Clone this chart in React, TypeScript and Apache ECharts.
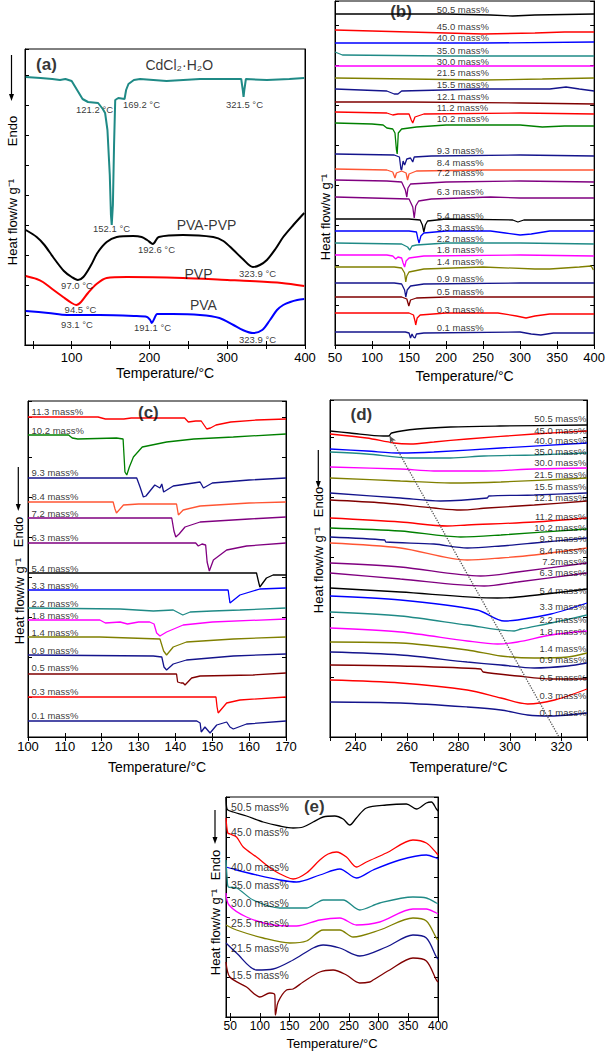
import React, { useEffect, useRef } from "react";
import * as echarts from "echarts";

const FONT = "'Liberation Sans', Arial, Helvetica, sans-serif";
const TEAL = "#1f8a86", RED = "#ff0000", BLUE = "#0000ff", MAGENTA = "#ff00ff", OLIVE = "#808000";
const NAVY = "#14148c", DARKRED = "#800000", GREEN = "#008000", SALMON = "#ff5533", PURPLE = "#800080", BLACK = "#000000";

type P = [number, number][];

// ---------- panel (a) ----------
const aCdCl2: P = [[41,26.8],[60,26.7],[75,26.6],[85,26.5],[92,26.6],[100,26.4],[107,25.5],[114,24.6],[121,24.3],[134,24.2],[140,23.6],[143,23.2],[146,21.5],[149,17],[150.5,13],[151.5,12.0],[153,14],[154.5,20],[156,24.5],[160,24.7],[168,24.6],[170,25.5],[173,26.1],[180,26.5],[188,26.6],[222,26.4],[265,26.6],[318,26.6],[320,25.5],[321,24.8],[322,25.5],[324,26.6],[351,26.5],[380,26.6],[399,26.7]];
const aPvaPvp: P = [[41,11.5],[55,10.8],[65,10.0],[76,8.8],[90,7.4],[100,6.8],[108,6.5],[115,6.8],[125,8.0],[133,9.2],[145,10.3],[158,10.8],[179,10.9],[190,10.8],[197,10.5],[202,10.2],[204.5,10.1],[207,10.3],[212,10.8],[243,11.0],[282,10.8],[295,10.4],[308,9.5],[320,8.6],[333,7.8],[342,8.0],[351,8.5],[362,9.6],[372,10.8],[385,12.0],[399,13.2]];
const aPvp: P = [[41,6.9],[55,6.6],[63,6.3],[75,5.6],[89,4.8],[100,4.2],[106,4.0],[112,4.3],[121,5.2],[132,6.1],[145,6.7],[171,6.8],[243,6.7],[300,6.5],[329,6.4],[370,6.2],[399,5.9]];
const aPva: P = [[41,3.4],[70,3.2],[94,3.0],[136,3.0],[180,2.9],[197,2.8],[201,2.5],[203,2.2],[206,2.6],[210,3.1],[230,3.1],[265,3.0],[290,2.7],[308,2.0],[320,1.5],[333,1.2],[345,1.5],[355,2.5],[364,3.5],[372,4.0],[381,4.3],[390,4.5],[399,4.6]];
const aCurveNames = ["CdCl₂·H₂O", "PVA-PVP", "PVP", "PVA"];
const aCurveNameT = [239, 274, 263.7, 270];
const aCurveNameY = [28.0, 12.0, 7.1, 4.0];
const aNoteText = ["121.2 °C","169.2 °C","321.5 °C","152.1 °C","192.6 °C","323.9 °C","97.0 °C","94.5 °C","93.1 °C","191.1 °C","323.9 °C"];
const aNoteT = [130, 190.4, 322.8, 151.9, 209.7, 339.6, 107.5, 112, 107.5, 204.6, 339.6];
const aNoteY = [23.5, 24.0, 24.0, 11.6, 9.5, 7.1, 5.9, 3.5, 2.0, 1.7, 0.5];

// ---------- panel (b) ----------
const b505: P = [[50,33.1],[120,33.1],[200,33.1],[260,33.0],[290,32.9],[320,33.0],[400,33.1]];
const b450: P = [[50,31.5],[100,31.4],[150,31.3],[250,31.1],[320,31.2],[360,31.3],[400,31.3]];
const b400: P = [[50,30.2],[150,30.2],[250,30.2],[400,30.3]];
const b350: P = [[50,29.3],[60,29.0],[200,28.9],[300,28.9],[400,28.9]];
const b300: P = [[50,27.9],[200,27.9],[300,27.9],[400,27.9]];
const b215: P = [[50,26.7],[150,26.6],[250,26.5],[330,26.6],[400,26.7]];
const b155: P = [[50,25.6],[120,25.4],[130,25.1],[135,25.1],[140,25.4],[250,25.6],[340,25.6],[362,25.8],[380,25.6],[400,25.4]];
const b121: P = [[50,24.3],[150,24.3],[300,24.2],[400,24.1]];
const b112: P = [[50,23.3],[120,23.2],[128,23.0],[135,23.1],[150,23.1],[153,22.5],[155,22.2],[158,22.8],[170,23.1],[300,23.2],[400,23.1]];
const b102: P = [[50,22.2],[100,22.1],[115,22.0],[120,21.7],[128,21.6],[131,21.2],[133,19.5],[134,19.1],[135.5,21.2],[140,21.6],[160,21.8],[200,22.0],[300,22.0],[330,21.8],[360,21.9],[400,21.9]];
const b93: P = [[50,19.1],[130,19.0],[137,18.8],[139,17.6],[140,17.5],[142,18.4],[144,18.0],[147,18.6],[152,18.7],[155,18.3],[157,18.8],[180,18.9],[300,19.0],[400,18.9]];
const b84: P = [[50,17.6],[120,17.5],[128,17.3],[131,16.7],[133,17.2],[140,17.4],[146,17.2],[148,16.5],[150,17.1],[160,17.4],[250,17.5],[400,17.5]];
const b72: P = [[50,16.5],[120,16.4],[140,16.3],[145,15.5],[147,14.8],[148.5,15.7],[152,16.1],[200,16.3],[300,16.4],[400,16.3]];
const b63: P = [[50,14.8],[100,14.7],[150,14.6],[155,13.8],[157,12.7],[159,13.9],[163,14.4],[180,14.6],[260,14.8],[300,14.7],[400,14.7]];
const b54: P = [[50,12.6],[150,12.6],[165,12.5],[168,12.0],[170,11.3],[172,12.0],[175,12.4],[200,12.6],[290,12.5],[297,12.3],[305,12.5],[400,12.5]];
const b33: P = [[50,11.4],[150,11.4],[160,11.3],[162,10.6],[163.5,10.2],[166,10.9],[170,11.2],[200,11.4],[260,11.4],[280,11.2],[300,11.0],[315,11.1],[340,11.4],[400,11.4]];
const b22: P = [[50,10.2],[140,10.1],[148,9.8],[151,9.5],[154,9.9],[160,10.0],[200,10.2],[300,10.2],[400,10.1]];
const b18: P = [[50,9.0],[120,9.0],[128,8.9],[132,8.6],[135,8.8],[140,8.7],[142,8.2],[144,7.8],[146,8.4],[150,8.7],[170,8.9],[300,9.0],[400,8.9]];
const b14: P = [[50,7.8],[130,7.8],[140,7.7],[144,7.2],[145.6,6.3],[147,6.9],[150,7.3],[170,7.6],[250,7.8],[320,7.6],[340,7.6],[380,7.8],[396,7.9],[399,7.5]];
const b09: P = [[50,6.2],[130,6.2],[140,6.1],[144,5.5],[145.6,4.8],[147.5,5.5],[152,5.9],[170,6.1],[300,6.2],[400,6.2]];
const b05: P = [[50,4.8],[140,4.8],[147,4.6],[149.7,3.9],[152,4.5],[160,4.7],[200,4.8],[400,4.8]];
const b03: P = [[50,3.2],[150,3.2],[156,3.0],[158,2.4],[159,2.0],[161,2.7],[165,3.0],[200,3.2],[270,3.2],[295,2.9],[308,2.7],[320,2.9],[340,3.1],[400,3.1]];
const b01: P = [[50,1.3],[145,1.3],[150,1.2],[152,0.7],[154,1.1],[156,0.8],[158,0.7],[160,1.1],[170,1.2],[300,1.3],[315,1.1],[328,1.0],[345,1.2],[400,1.2]];
const bNames = ["50.5 mass%","45.0 mass%","40.0 mass%","35.0 mass%","30.0 mass%","21.5 mass%","15.5 mass%","12.1 mass%","11.2 mass%","10.2 mass%","9.3 mass%","8.4 mass%","7.2 mass%","6.3 mass%","5.4 mass%","3.3 mass%","2.2 mass%","1.8 mass%","1.4 mass%","0.9 mass%","0.5 mass%","0.3 mass%","0.1 mass%"];
const bLabelY = [33.5,31.8,30.7,29.4,28.3,27.2,26.0,24.8,23.7,22.6,19.4,18.2,17.2,15.3,12.9,11.7,10.6,9.5,8.3,6.6,5.3,3.5,1.7];
const bLabelT = 188;

// ---------- panel (c) ----------
const c113: P = [[100,32.0],[119,32.0],[121,31.8],[126,31.8],[128,31.9],[142.5,31.9],[143.5,31.5],[145.5,31.6],[147,31.6],[148.5,30.8],[149.5,30.9],[151,31.2],[155,31.5],[162,31.7],[170,31.8]];
const c102: P = [[100,30.2],[111,30.2],[112,29.9],[113.5,29.8],[124,29.9],[125.8,29.8],[126.3,26.5],[126.8,26.2],[127.5,27.0],[128.6,28.0],[131,29.0],[137.6,29.5],[145,29.8],[155.7,30.0],[170,30.3]];
const c93: P = [[100,25.9],[129.5,25.9],[130.4,25.0],[131.3,24.0],[132,24.1],[134.4,25.2],[135.8,24.9],[136.3,25.3],[136.8,24.5],[139.4,25.1],[146.7,25.5],[147.6,24.9],[150,25.4],[160,25.7],[170,25.9]];
const c84: P = [[100,23.5],[123.1,23.5],[123.6,22.8],[124,22.4],[125.9,23.2],[130,23.3],[140.3,23.3],[140.8,22.2],[142.1,22.7],[146.7,23.1],[160,23.4],[170,23.5]];
const c72: P = [[100,21.9],[139,21.9],[139.6,20.6],[140.1,20.0],[141,20.3],[142.6,21.0],[146.7,21.5],[160,21.8],[170,22.0]];
const c63: P = [[100,19.4],[145.5,19.4],[146.2,19.1],[147.2,19.3],[148.2,19.2],[148.6,17.5],[149.2,16.6],[150.3,17.7],[153.9,18.7],[159.3,19.1],[170,19.4]];
const c54: P = [[100,16.4],[162,16.4],[162.5,15.6],[162.9,15.0],[164.7,15.9],[166.5,16.2],[170,16.2]];
const c33: P = [[100,14.7],[154.3,14.7],[154.6,13.9],[154.8,13.4],[157.5,14.2],[162.9,14.8],[170,14.9]];
const c22: P = [[100,12.9],[125,12.8],[134,12.6],[139.4,12.7],[142,12.2],[144,12.5],[150,12.6],[157.5,12.7],[170,12.9]];
const c18: P = [[100,11.7],[119.5,11.7],[121,11.4],[125,11.5],[127,11.3],[130,11.5],[133,11.5],[134.2,11.3],[134.9,10.4],[135.8,10.1],[137.6,10.5],[142.1,11.2],[150,11.5],[170,11.8]];
const c14: P = [[100,10.0],[119.5,10.0],[135.8,9.8],[136.8,8.6],[137.6,8.2],[139.4,9.0],[143,9.5],[155.7,9.8],[170,10.0]];
const c09: P = [[100,8.2],[134,8.1],[136.3,8.0],[136.9,7.0],[137.6,6.7],[139.4,7.3],[143,7.7],[155.7,8.1],[170,8.3]];
const c05: P = [[100,6.3],[140.3,6.3],[140.6,5.5],[141.5,5.4],[142.1,5.4],[142.6,5.2],[144.4,5.9],[146.7,6.1],[161.1,6.2],[170,6.4]];
const c03: P = [[100,4.0],[151,4.0],[151.3,3.0],[151.6,2.4],[153.9,3.4],[157.5,3.7],[170,4.0]];
const c01: P = [[100,1.6],[145.8,1.6],[146.7,1.4],[147,0.5],[148,1.0],[149.4,0.4],[151.2,1.2],[153.9,1.5],[154.8,1.0],[155.7,0.8],[159.3,1.3],[170,1.6]];
const cNames = ["11.3 mass%","10.2 mass%","9.3 mass%","8.4 mass%","7.2 mass%","6.3 mass%","5.4 mass%","3.3 mass%","2.2 mass%","1.8 mass%","1.4 mass%","0.9 mass%","0.5 mass%","0.3 mass%","0.1 mass%"];
const cLabelY = [32.5,30.6,26.4,24.0,22.3,19.9,16.8,15.1,13.3,12.1,10.4,8.6,6.9,4.5,2.1];
const cLabelT = 101.1;

// ---------- panel (d) ----------
const d505: P = [[230,30.6],[237.8,30.4],[250.8,30.1],[252.8,30.1],[254,30.4],[263.9,30.8],[276.9,31.0],[296,31.1],[330,31.2]];
const d450: P = [[230,30.3],[244.3,29.9],[254.8,29.4],[261.3,29.3],[270.4,29.5],[283.4,29.8],[309.5,30.3],[330,30.6]];
const d400: P = [[230,28.8],[244.3,28.6],[257.4,28.4],[270.4,28.5],[296.5,28.9],[330,29.4]];
const d350: P = [[230,28.5],[244.3,28.3],[261.3,27.9],[276.9,27.9],[289.9,28.1],[309.5,28.2],[330,28.4]];
const d300: P = [[230,27.0],[257.4,26.8],[270.4,26.6],[290,26.6],[309.5,26.8],[330,26.9]];
const d215: P = [[230,25.9],[257.4,25.6],[276.9,25.4],[296.5,25.5],[330,25.9]];
const d155: P = [[230,24.4],[257.4,23.9],[273,23.6],[291.2,23.9],[291.8,24.1],[309.5,24.2],[330,24.4]];
const d121: P = [[230,23.7],[250.8,23.4],[270.4,22.9],[280.8,22.7],[291.2,22.9],[309.5,23.2],[330,23.6]];
const d112: P = [[230,21.9],[257.4,21.5],[275.6,21.1],[283.4,21.2],[309.5,21.5],[330,21.9]];
const d102: P = [[230,20.9],[257.4,20.6],[280.8,20.0],[296.5,20.2],[330,20.8]];
const d93: P = [[230,20.0],[251.3,19.7],[251.7,19.5],[270.4,19.3],[283.4,18.9],[296.5,19.1],[309.5,19.4],[330,19.9]];
const d84: P = [[230,19.4],[257.4,18.9],[283.4,17.7],[296.5,17.9],[309.5,18.2],[330,18.9]];
const d72: P = [[230,17.4],[257.4,17.0],[288.6,16.1],[303,16.5],[330,17.4]];
const d63: P = [[230,16.4],[257.4,15.8],[290,15.1],[303,15.5],[330,16.4]];
const d54: P = [[230,14.9],[257.4,14.5],[295.2,13.9],[303,14.0],[330,14.8]];
const d33: P = [[230,14.1],[257.4,13.7],[287.3,12.7],[297.8,11.6],[303,11.7],[316,12.3],[330,13.4]];
const d22: P = [[230,12.5],[257.4,12.1],[283.4,11.2],[301.7,10.6],[304.3,10.8],[316,11.4],[330,12.2]];
const d18: P = [[230,10.9],[257.4,10.5],[283.4,9.6],[295.2,9.3],[303,9.5],[316,10.2],[330,10.6]];
const d14: P = [[230,9.5],[257.4,9.4],[283.4,8.7],[296.5,8.1],[309.5,7.9],[322.5,8.0],[330,8.4]];
const d09: P = [[230,8.5],[257.4,8.2],[283.4,7.5],[296.5,7.2],[309.5,6.9],[322.5,7.1],[330,7.4]];
const d05: P = [[230,7.2],[257.4,7.1],[288.6,6.8],[289.6,6.5],[303,6.1],[316,5.8],[330,5.8]];
const d03: P = [[230,5.7],[257.4,5.4],[283.4,4.7],[296.5,3.9],[306.9,3.3],[317.4,3.7],[330,4.8]];
const d01: P = [[230,3.5],[257.4,3.4],[283.4,3.0],[296.5,2.7],[306.9,2.2],[316,2.1],[330,2.4]];
const dNames = ["50.5 mass%","45.0 mass%","40.0 mass%","35.0 mass%","30.0 mass%","21.5 mass%","15.5 mass%","12.1 mass%","11.2 mass%","10.2 mass%","9.3 mass%","8.4 mass%","7.2mass%","6.3 mass%","5.4 mass%","3.3 mass%","2.2 mass%","1.8 mass%","1.4 mass%","0.9 mass%","0.5 mass%","0.3 mass%","0.1 mass%"];
const dLabelY = [31.8,30.6,29.6,28.5,27.4,26.2,25.0,23.9,22.0,20.9,19.8,18.6,17.5,16.4,14.6,13.0,11.7,10.5,8.8,7.7,5.9,4.1,2.4];
const dLabelT = 330;
const dGuideStart: [number, number] = [253.2, 30.1];
const dGuideEnd: [number, number] = [319.1, 0];

// ---------- panel (e) ----------
const e505: P = [[43,22.0],[44,21.0],[46,20.7],[55,20.5],[77.6,20.1],[105.6,19.5],[133.6,19.1],[156,18.9],[172.9,19.0],[189.7,19.5],[206.6,20.0],[226.2,20.1],[240.2,19.8],[251.4,19.2],[262.6,19.9],[279.5,20.9],[313,21.2],[346.8,21.3],[363.6,20.8],[380.4,21.4],[388.8,21.5],[397.3,20.8],[400,20.6]];
const e450: P = [[43,19.9],[46,18.4],[50,18.3],[60.7,18.0],[72,17.0],[94.4,16.0],[122.4,14.7],[145,14.0],[156,13.8],[178.5,14.4],[201,15.7],[215,16.3],[229,16.5],[245.8,16.0],[262.6,15.0],[279.5,15.5],[313,16.4],[357.9,17.7],[380.4,17.4],[397.3,16.4],[400,16.2]];
const e400: P = [[43,15.0],[60.7,14.7],[94.4,14.2],[133.6,13.7],[161.7,13.5],[201,14.2],[234.6,14.8],[262.6,13.9],[290.7,14.7],[335.5,15.7],[380.4,16.2],[397.3,15.9],[400,15.8]];
const e350: P = [[43,15.7],[45,13.8],[47,13.0],[60.7,12.9],[88.8,11.7],[133.6,10.9],[178.5,10.9],[195.3,11.4],[206.6,11.7],[240.2,11.7],[268.2,10.7],[301.9,11.4],[357.9,12.0],[380.4,11.9],[397.3,11.4],[400,11.3]];
const e300: P = [[43,12.4],[48,11.2],[77.6,10.0],[122.4,9.2],[161.7,9.1],[201,9.7],[234.6,9.9],[262.6,9.2],[301.9,9.5],[357.9,10.8],[380.4,10.8],[397.3,10.4],[400,10.3]];
const e255: P = [[43,9.2],[60.7,8.7],[105.6,7.9],[150.5,7.4],[178.5,7.6],[206.6,8.7],[234.6,8.7],[257,8.0],[301.9,8.7],[357.9,9.9],[380.4,9.6],[397.3,7.9],[400,7.7]];
const e215: P = [[43,7.4],[60.7,6.4],[94.4,4.7],[122.4,4.8],[156,5.7],[189.7,6.9],[206.6,7.2],[234.6,6.9],[268.2,6.1],[313,7.0],[357.9,8.2],[380.4,7.9],[397.3,6.0],[400,5.8]];
const e155: P = [[43,5.5],[49.5,4.0],[77.6,3.0],[100,2.0],[116.8,2.4],[125.2,2.2],[126,0.2],[127,0.4],[130.8,1.5],[144.9,2.7],[156,2.8],[172.9,3.5],[201,4.5],[223.4,4.7],[245.8,4.2],[268.2,3.4],[285,3.5],[290.7,3.7],[318.7,4.7],[357.9,5.9],[380.4,5.6],[397.3,3.7],[400,3.5]];
const eNames = ["50.5 mass%","45.0 mass%","40.0 mass%","35.0 mass%","30.0 mass%","25.5 mass%","21.5 mass%","15.5 mass%"];
const eLabelY = [21.0,18.5,15.0,13.2,11.4,9.4,6.9,4.2];
const eLabelT = 52.4;

// panel letters
const panelLetters = ["(a)", "(b)", "(c)", "(d)", "(e)"];
const panelLetterT = [68.3, 139.8, 132.8, 242.4, 192.5];
const panelLetterY = [28.0, 33.3, 32.4, 32.2, 21.0];

// axes
const xMin = [40, 50, 100, 230, 43];
const xMax = [400, 400, 170, 330, 400];
const yMax = [29.6, 34.4, 33.6, 33.7, 22.0];
const yInterval = [3, 4, 4, 6, 2];
const xTickValues = [
  [50, 100, 150, 200, 250, 300, 350, 400],
  [50, 100, 150, 200, 250, 300, 350, 400],
  [100, 110, 120, 130, 140, 150, 160, 170],
  [230, 240, 250, 260, 270, 280, 290, 300, 310, 320, 330],
  [50, 100, 150, 200, 250, 300, 350, 400],
];
const xLabelValues = [
  [100, 200, 300, 400],
  [50, 100, 150, 200, 250, 300, 350, 400],
  [100, 110, 120, 130, 140, 150, 160, 170],
  [240, 260, 280, 300, 320],
  [50, 100, 150, 200, 250, 300, 350, 400],
];

const grids = [
  { left: 25, top: 49, width: 280, height: 296 },
  { left: 335, top: 1, width: 261, height: 344 },
  { left: 28, top: 401, width: 258, height: 336 },
  { left: 330, top: 400, width: 257, height: 337 },
  { left: 226, top: 797, width: 212, height: 220 },
];
const labelMargin = [6, 6, 3, 3, 3];
const nameGap = [21, 24, 23, 23, 20];
const tickFont = [13, 13, 13, 13, 12];
const rightTicks = [false, true, true, true, true];

function buildOption() {
  const xAxis: any[] = [];
  const yAxis: any[] = [];
  const series: any[] = [];

  grids.forEach((_, i) => {
    xAxis.push({
      type: "value", gridIndex: i, min: xMin[i], max: xMax[i], position: "bottom",
      name: "Temperature/°C", nameLocation: "middle", nameGap: nameGap[i],
      nameTextStyle: { fontFamily: FONT, fontSize: i === 4 ? 13 : 14, color: "#000" },
      axisLine: { show: true, lineStyle: { color: "#000", width: 1 } },
      axisTick: { show: true, inside: true, length: 4, customValues: xTickValues[i], lineStyle: { color: "#000" } },
      axisLabel: { show: true, customValues: xLabelValues[i], margin: labelMargin[i], fontFamily: FONT, fontSize: tickFont[i], color: "#000" },
      splitLine: { show: false },
    });
    xAxis.push({
      type: "value", gridIndex: i, min: xMin[i], max: xMax[i], position: "top",
      axisLine: { show: true, lineStyle: { color: "#000", width: 1 } },
      axisTick: { show: true, inside: true, length: 4, customValues: xTickValues[i], lineStyle: { color: "#000" } },
      axisLabel: { show: false },
      splitLine: { show: false },
    });
  });
  grids.forEach((_, i) => {
    yAxis.push({
      type: "value", gridIndex: i, min: 0, max: yMax[i], interval: yInterval[i], position: "left",
      axisLine: { show: true, lineStyle: { color: "#000", width: 1 } },
      axisTick: { show: true, inside: true, length: 4, lineStyle: { color: "#000" } },
      axisLabel: { show: false },
      splitLine: { show: false },
    });
  });
  grids.forEach((_, i) => {
    yAxis.push({
      type: "value", gridIndex: i, min: 0, max: yMax[i], interval: yInterval[i], position: "right",
      axisLine: { show: true, lineStyle: { color: "#000", width: 1 } },
      axisTick: { show: rightTicks[i], inside: true, length: 4, lineStyle: { color: "#000" } },
      axisLabel: { show: false },
      splitLine: { show: false },
    });
  });

  const line = (gi: number, data: P, color: string, width: number, smooth: number | boolean = false, extra: any = {}) => ({
    type: "line", xAxisIndex: gi * 2, yAxisIndex: gi, data, symbol: "none", showSymbol: false,
    smooth, silent: true, lineStyle: { color, width }, itemStyle: { color }, z: 2, ...extra,
  });

  // panel a
  series.push(line(0, aCdCl2, TEAL, 2));
  series.push(line(0, aPvaPvp, BLACK, 2, 0.3));
  series.push(line(0, aPvp, RED, 2, 0.3));
  series.push(line(0, aPva, BLUE, 2, 0.3));

  const bCurves: [P, string][] = [
    [b505, BLACK], [b450, RED], [b400, BLUE], [b350, TEAL], [b300, MAGENTA], [b215, OLIVE], [b155, NAVY], [b121, DARKRED],
    [b112, RED], [b102, GREEN], [b93, NAVY], [b84, SALMON], [b72, PURPLE], [b63, PURPLE], [b54, BLACK], [b33, BLUE],
    [b22, TEAL], [b18, MAGENTA], [b14, OLIVE], [b09, NAVY], [b05, DARKRED], [b03, RED], [b01, NAVY],
  ];
  bCurves.forEach(([d, c]) => series.push(line(1, d, c, 1.3)));

  const cCurves: [P, string][] = [
    [c113, RED], [c102, GREEN], [c93, NAVY], [c84, SALMON], [c72, PURPLE], [c63, PURPLE], [c54, BLACK], [c33, BLUE],
    [c22, TEAL], [c18, MAGENTA], [c14, OLIVE], [c09, NAVY], [c05, DARKRED], [c03, RED], [c01, NAVY],
  ];
  cCurves.forEach(([d, c]) => series.push(line(2, d, c, 1.3)));

  const dCurves: [P, string][] = [
    [d505, BLACK], [d450, RED], [d400, BLUE], [d350, TEAL], [d300, MAGENTA], [d215, OLIVE], [d155, NAVY], [d121, DARKRED],
    [d112, RED], [d102, GREEN], [d93, NAVY], [d84, SALMON], [d72, PURPLE], [d63, PURPLE], [d54, BLACK], [d33, BLUE],
    [d22, TEAL], [d18, MAGENTA], [d14, OLIVE], [d09, NAVY], [d05, DARKRED], [d03, RED], [d01, NAVY],
  ];
  dCurves.forEach(([d, c], k) => {
    const extra = k === 0 ? {
      markLine: {
        silent: true, symbol: ["arrow", "none"], symbolSize: [5, 7], animation: false,
        label: { show: false },
        lineStyle: { type: "dotted", color: "#555", width: 1.3 },
        data: [[{ coord: dGuideStart }, { coord: dGuideEnd }]],
      },
    } : {};
    series.push(line(3, d, c, 1.3, 0.3, extra));
  });

  const eCurves: [P, string][] = [
    [e505, BLACK], [e450, RED], [e400, BLUE], [e350, TEAL], [e300, MAGENTA], [e255, OLIVE], [e215, NAVY], [e155, DARKRED],
  ];
  eCurves.forEach(([d, c]) => series.push(line(4, d, c, 1.3, 0.3)));

  // text labels attached to data coordinates
  const textSeries = (gi: number, items: any[], base: any) => ({
    type: "scatter", xAxisIndex: gi * 2, yAxisIndex: gi, symbolSize: 1, silent: true, z: 5,
    itemStyle: { color: "transparent" },
    label: { show: true, formatter: "{b}", position: [0, 0], verticalAlign: "middle", fontFamily: FONT, color: "#000", ...base },
    data: items,
  });

  series.push(textSeries(0, aNoteText.map((t, k) => ({ name: t, value: [aNoteT[k], aNoteY[k]] })), { fontSize: 9.5, align: "center" }));
  series.push(textSeries(0, aCurveNames.map((t, k) => ({ name: t, value: [aCurveNameT[k], aCurveNameY[k]] })), { fontSize: 14, align: "center" }));
  series.push(textSeries(1, bNames.map((t, k) => ({ name: t, value: [bLabelT, bLabelY[k]] })), { fontSize: 9.5, align: "left" }));
  series.push(textSeries(2, cNames.map((t, k) => ({ name: t, value: [cLabelT, cLabelY[k]] })), { fontSize: 9.5, align: "left" }));
  series.push(textSeries(3, dNames.map((t, k) => ({ name: t, value: [dLabelT, dLabelY[k]] })), { fontSize: 9.5, align: "right" }));
  series.push(textSeries(4, eNames.map((t, k) => ({ name: t, value: [eLabelT, eLabelY[k]] })), { fontSize: 10.5, align: "left" }));
  panelLetters.forEach((t, gi) => {
    series.push(textSeries(gi, [{ name: t, value: [panelLetterT[gi], panelLetterY[gi]] }], { fontSize: 17, fontWeight: "bold", align: "center" }));
  });

  // y-axis titles, Endo marks and arrows (outside the plot areas)
  const graphic: any[] = [];
  const vtext = (x: number, y: number, text: string) => ({
    type: "text", x, y, rotation: Math.PI / 2, silent: true,
    style: { text, fontFamily: FONT, fontSize: 13, fill: "#000", align: "center", verticalAlign: "middle", textAlign: "center", textVerticalAlign: "middle" },
  });
  const arrow = (x: number, y1: number, y2: number) => [
    { type: "line", silent: true, shape: { x1: x, y1, x2: x, y2: y2 - 4 }, style: { stroke: "#000", lineWidth: 1.2 } },
    { type: "polygon", silent: true, shape: { points: [[x - 2.5, y2 - 7], [x + 2.5, y2 - 7], [x, y2]] }, style: { fill: "#000" } },
  ];
  graphic.push(vtext(12, 222, "Heat flow/w g⁻¹"), vtext(12, 131, "Endo"), ...arrow(11.5, 55, 101));
  graphic.push(vtext(325, 217, "Heat flow/w g⁻¹"));
  graphic.push(vtext(19, 601, "Heat flow/w g⁻¹"), vtext(18.5, 532, "Endo"), ...arrow(18.3, 467, 511));
  graphic.push(vtext(318, 570, "Heat flow/w g⁻¹"), vtext(318, 502, "Endo"), ...arrow(318.3, 450, 488));
  graphic.push(vtext(215, 932, "Heat flow/w g⁻¹"), vtext(215, 865, "Endo"), ...arrow(215, 810, 844));

  return {
    animation: false,
    backgroundColor: "#ffffff",
    grid: grids.map((g) => ({ ...g, show: true, borderColor: "#000", borderWidth: 1, backgroundColor: "transparent", containLabel: false })),
    xAxis, yAxis, series, graphic,
  };
}

export default function App() {
  const ref = useRef<HTMLDivElement>(null);
  useEffect(() => {
    if (!ref.current) return;
    const chart = echarts.init(ref.current, undefined, { renderer: "svg" });
    chart.setOption(buildOption() as any);
    return () => chart.dispose();
  }, []);
  return <div ref={ref} style={{ position: "absolute", left: 0, top: 0, width: 608, height: 1052, background: "#fff" }} />;
}
